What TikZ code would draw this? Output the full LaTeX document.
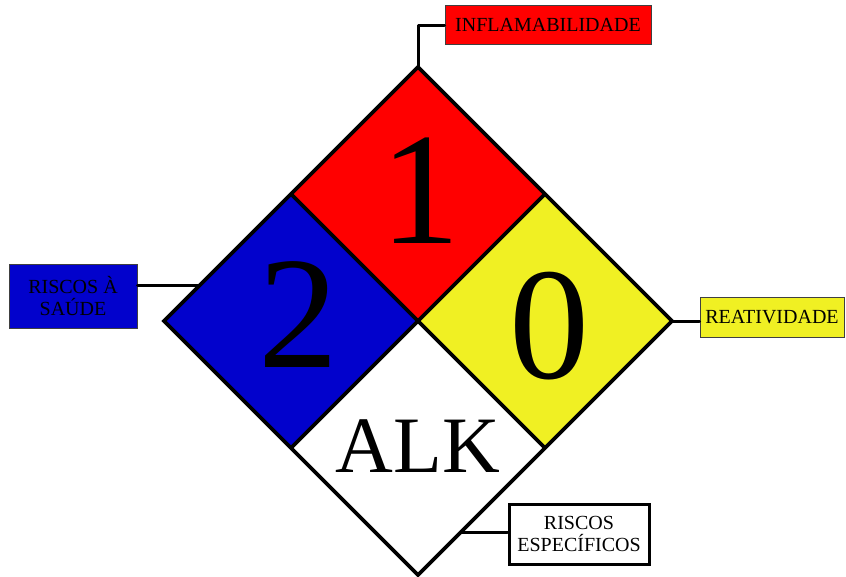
\documentclass[tikz,border=0pt]{standalone}
\usepackage{fontspec}
\setmainfont{Liberation Serif}
\usetikzlibrary{calc}
\definecolor{nfpared}{RGB}{255,0,0}
\definecolor{nfpablue}{RGB}{2,2,204}
\definecolor{nfpayellow}{RGB}{240,240,35}
\begin{document}
\begin{tikzpicture}[x=1pt,y=-1pt,
  labelbox/.style={draw=black!75, line width=1pt, inner sep=0pt, align=center,
    font=\fontsize{20}{22}\selectfont},
  digit/.style={inner sep=0pt, anchor=base, font=\fontsize{160}{160}\selectfont},
  conn/.style={line width=3pt, line cap=round, line join=round},
  edge/.style={line width=3.8pt, line join=miter}]
\useasboundingbox (0,0) rectangle (846,576);
% diamond vertices
\coordinate (T) at (418,67);
\coordinate (L) at (164,321);
\coordinate (R) at (672,321);
\coordinate (B) at (418,575);
\coordinate (C) at (418,321);
\coordinate (TL) at (291,194);
\coordinate (TR) at (545,194);
\coordinate (BL) at (291,448);
\coordinate (BR) at (545,448);
% quadrants
\fill[nfpared] (T) -- (TR) -- (C) -- (TL) -- cycle;
\fill[nfpablue] (TL) -- (C) -- (BL) -- (L) -- cycle;
\fill[nfpayellow] (TR) -- (R) -- (BR) -- (C) -- cycle;
\fill[white] (C) -- (BR) -- (B) -- (BL) -- cycle;
\draw[edge] (TL) -- (BR);
\draw[edge] (TR) -- (BL);
\draw[edge] (T) -- (R) -- (B) -- (L) -- cycle;
% numbers
\node[digit] (n1) at (420,243) {1};
\node[digit] (n2) at (298,367) {2};
\node[digit] (n0) at (549,378) {0};
\node[inner sep=0pt, anchor=base, font=\fontsize{80}{80}\selectfont] (alk) at (418,472) {ALK};
% labels
\node[labelbox, fill=nfpared, minimum width=206pt, minimum height=39pt] (flam) at (548,25) {INFLAMABILIDADE};
\node[labelbox, fill=nfpablue, minimum width=128pt, minimum height=64pt] (health) at (73,296) {RISCOS À\\SAÚDE};
\node[labelbox, fill=nfpayellow, minimum width=144pt, minimum height=40pt] (react) at (772,317) {REATIVIDADE};
\node[labelbox, draw=black, line width=3pt, fill=white, minimum width=140pt, minimum height=60pt] (spec) at (579,534) {RISCOS\\ESPECÍFICOS};
% connectors
\coordinate (hj) at (200,285);
\coordinate (sj) at (461,532);
\draw[conn] (T) -- (T |- flam.west) -- (flam.west);
\draw[conn] (hj) -- (health.east |- hj);
\draw[conn] (R) -- (R -| react.west);
\draw[conn] (sj) -- (sj -| spec.west);
\end{tikzpicture}
\end{document}
